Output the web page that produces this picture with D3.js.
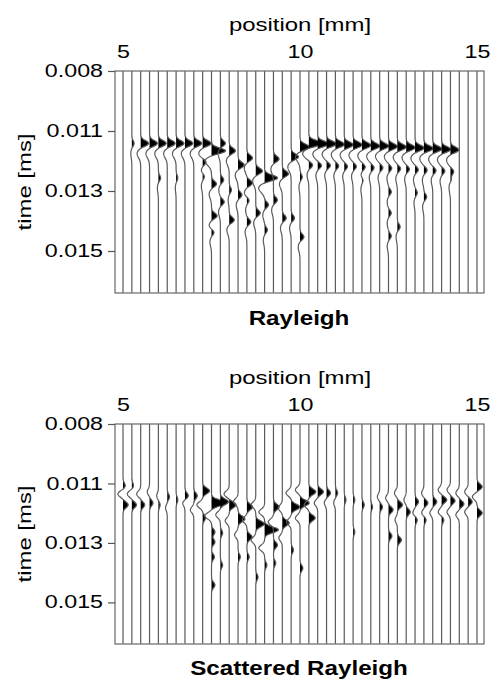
<!DOCTYPE html>
<html>
<head>
<meta charset="utf-8">
<script src="https://cdn.jsdelivr.net/npm/d3@7"></script>
<style>
  body { margin: 0; background: #fff; }
  text { font-family: "Liberation Sans", Arial, Helvetica, sans-serif; fill: #000; }
</style>
</head>
<body>
<svg id="chart" width="491" height="683"></svg>
<script>
// Receiver positions (mm), one wiggle trace each
const tracePositions = [5.0, 5.25, 5.5, 5.75, 6.0, 6.25, 6.5, 6.75, 7.0, 7.25, 7.5, 7.75, 8.0, 8.25,
  8.5, 8.75, 9.0, 9.25, 9.5, 9.75, 10.0, 10.25, 10.5, 10.75, 11.0, 11.25, 11.5, 11.75, 12.0,
  12.25, 12.5, 12.75, 13.0, 13.25, 13.5, 13.75, 14.0, 14.25, 14.5, 14.75, 15.0];
const traceStep = 0.25;

const positionTicks = [5, 10, 15];
const timeTicks = [0.008, 0.0105, 0.013, 0.0155];
const timeTickLabels = ["0.008", "0.011", "0.013", "0.015"];

// Rayleigh panel: main arrival per trace (time in ms, amplitude in trace spacings)
const rayleighFirstTime = [0.01102, 0.01102, 0.01102, 0.01102, 0.01102, 0.01102, 0.01102, 0.01102,
  0.01102, 0.01102, 0.01133, 0.01102, 0.01133, 0.01192, 0.01163, 0.01217, 0.01246, 0.01167,
  0.01229, 0.01158, 0.01117, 0.01102, 0.01104, 0.01104, 0.01106, 0.01108, 0.01108, 0.0111,
  0.01113, 0.01113, 0.01115, 0.01117, 0.01119, 0.01121, 0.01123, 0.01125, 0.01127, 0.01129,
  0.0113, 0.0113, 0.0113];
const rayleighFirstAmp = [0, 0.2, 0.7, 0.7, 0.7, 0.7, 0.7, 0.7, 0.7, 0.75, 1.25, 0.45, 0.55, 0.55,
  0.5, 0.6, 1.15, 0.5, 0.55, 0.65, 0.85, 1.2, 0.95, 0.85, 0.8, 0.8, 0.8, 0.8, 0.8, 0.8, 0.8, 0.8,
  0.8, 0.8, 0.8, 0.8, 0.8, 0.75, 0, 0, 0];

// Rayleigh panel: later arrivals [position mm, time ms, amplitude]
const rayleighLater = [
  [6.0, 0.01246, 0.2], [6.5, 0.01246, 0.15],
  [7.25, 0.01179, 0.35], [7.25, 0.01238, 0.25],
  [7.5, 0.01271, 0.45], [7.5, 0.01404, 0.5], [7.5, 0.01471, 0.3],
  [7.75, 0.01254, 0.3], [7.75, 0.01346, 0.35],
  [8.0, 0.01296, 0.2], [8.0, 0.01421, 0.45],
  [8.25, 0.01317, 0.35],
  [8.5, 0.01267, 0.5], [8.5, 0.01338, 0.25], [8.5, 0.01429, 0.35],
  [8.75, 0.01392, 0.4],
  [9.0, 0.01358, 0.35], [9.0, 0.01463, 0.25],
  [9.25, 0.01338, 0.35],
  [9.5, 0.01413, 0.35],
  [9.75, 0.01413, 0.3],
  [10.0, 0.01242, 0.2], [10.0, 0.01492, 0.35],
  [10.25, 0.01192, 0.35],
  [10.5, 0.01194, 0.35], [10.75, 0.01194, 0.35], [11.0, 0.01196, 0.3], [11.25, 0.01198, 0.3],
  [11.5, 0.01198, 0.3], [11.75, 0.012, 0.3], [12.0, 0.01203, 0.3], [12.25, 0.01203, 0.3],
  [12.5, 0.01205, 0.3], [12.75, 0.01207, 0.3], [13.0, 0.01209, 0.3], [13.25, 0.01211, 0.3],
  [13.5, 0.01213, 0.3], [13.75, 0.01215, 0.3], [14.0, 0.01217, 0.3], [14.25, 0.01219, 0.3],
  [11.75, 0.01254, 0.2], [12.5, 0.01304, 0.25], [12.5, 0.01392, 0.25], [12.5, 0.01488, 0.25],
  [12.75, 0.0145, 0.25], [13.25, 0.01308, 0.2], [13.5, 0.01325, 0.25], [14.25, 0.01254, 0.2]
];

// Scattered Rayleigh panel: arrivals [position mm, time ms, amplitude]
const scatteredEvents = [
  [5.0, 0.0106, 0.2], [5.0, 0.01094, -0.45], [5.0, 0.0114, 0.45],
  [5.25, 0.0106, 0.15], [5.25, 0.01094, -0.4], [5.25, 0.0114, 0.4],
  [5.5, 0.01094, -0.35], [5.5, 0.0114, 0.35],
  [5.75, 0.01085, -0.2], [5.75, 0.01132, 0.3],
  [6.0, 0.01102, -0.15], [6.0, 0.0114, 0.15],
  [6.25, 0.01106, 0.2], [6.25, 0.01153, -0.15],
  [6.5, 0.01119, 0.15],
  [6.75, 0.01102, 0.3], [6.75, 0.01132, -0.2],
  [7.0, 0.01102, 0.3], [7.0, 0.01161, -0.3],
  [7.25, 0.01081, 0.6], [7.25, 0.0114, -0.5], [7.25, 0.01195, 0.25],
  [7.5, 0.01132, 1.3], [7.5, 0.01186, -0.6], [7.5, 0.01254, 0.3], [7.5, 0.01296, 0.3],
  [7.5, 0.01359, 0.25], [7.5, 0.01477, 0.3],
  [7.75, 0.01127, 0.7], [7.75, 0.01182, -0.4], [7.75, 0.01258, 0.2], [7.75, 0.01393, 0.2],
  [8.0, 0.01094, -0.45], [8.0, 0.0114, 0.6], [8.0, 0.01207, -0.35],
  [8.25, 0.01127, -0.4], [8.25, 0.01199, 0.6], [8.25, 0.01266, -0.3], [8.25, 0.01359, 0.2],
  [8.5, 0.01149, 0.5], [8.5, 0.01203, -0.4], [8.5, 0.01275, 0.45], [8.5, 0.01359, 0.2],
  [8.75, 0.0114, -0.4], [8.75, 0.0122, 0.75], [8.75, 0.01288, -0.4], [8.75, 0.01444, 0.2],
  [9.0, 0.0117, -0.5], [9.0, 0.01245, 1.2], [9.0, 0.01321, -0.5], [9.0, 0.01393, 0.2],
  [9.25, 0.01149, 0.5], [9.25, 0.01212, -0.45], [9.25, 0.01309, 0.35], [9.25, 0.01385, 0.2],
  [9.5, 0.01153, -0.35], [9.5, 0.01216, 0.6], [9.5, 0.01279, -0.3],
  [9.75, 0.0109, -0.45], [9.75, 0.01149, 0.75], [9.75, 0.01212, -0.4], [9.75, 0.0133, 0.2],
  [10.0, 0.01077, -0.4], [10.0, 0.01132, 0.8], [10.0, 0.01195, -0.4], [10.0, 0.01406, 0.25],
  [10.25, 0.01085, 0.6], [10.25, 0.0114, -0.4], [10.25, 0.01195, 0.55],
  [10.5, 0.01085, 0.5], [10.5, 0.01132, -0.3],
  [10.75, 0.0109, 0.35], [10.75, 0.01132, -0.2],
  [11.0, 0.0109, 0.2], [11.0, 0.01132, -0.15],
  [11.25, 0.01119, 0.15],
  [11.5, 0.01119, 0.15], [11.5, 0.01254, 0.15],
  [11.75, 0.0114, 0.2],
  [12.0, 0.01149, 0.15],
  [12.25, 0.01106, -0.2], [12.25, 0.01149, 0.25],
  [12.5, 0.01111, -0.25], [12.5, 0.01161, 0.4], [12.5, 0.01271, 0.3],
  [12.75, 0.0109, -0.25], [12.75, 0.0114, 0.45], [12.75, 0.01203, -0.2], [12.75, 0.01288, 0.35],
  [13.0, 0.01119, -0.2], [13.0, 0.0117, 0.35],
  [13.25, 0.01127, 0.3], [13.25, 0.01174, -0.2], [13.25, 0.01203, 0.2],
  [13.5, 0.0109, -0.2], [13.5, 0.01132, 0.35], [13.5, 0.01174, -0.2], [13.5, 0.01203, 0.2],
  [13.75, 0.01127, 0.35], [13.75, 0.01174, -0.25],
  [14.0, 0.01077, -0.3], [14.0, 0.01119, 0.45], [14.0, 0.0117, -0.3], [14.0, 0.01203, 0.2],
  [14.25, 0.01077, -0.3], [14.25, 0.01123, 0.4], [14.25, 0.0117, -0.3],
  [14.5, 0.0109, -0.3], [14.5, 0.01136, 0.4], [14.5, 0.01182, -0.3],
  [14.75, 0.01085, -0.3], [14.75, 0.01127, 0.35], [14.75, 0.0117, -0.3],
  [15.0, 0.01064, 0.45], [15.0, 0.01106, -0.4], [15.0, 0.01174, 0.45]
];

const rayleighEvents = tracePositions
  .map((p, i) => [p, rayleighFirstTime[i], rayleighFirstAmp[i]])
  .filter(e => e[2] !== 0)
  .concat(rayleighLater);

// ---- layout ----
const svg = d3.select("#chart");
const frameLeft = 115, frameRight = 484;
const timeDomain = [0.008, 0.01725];
const x = d3.scaleLinear().domain([5, 15]).range([123, 477]);
const gain = 1.3;

const panels = [
  { title: "Rayleigh", top: 71, bottom: 293, titleY: 325, events: rayleighEvents, tail: 0.45 },
  { title: "Scattered Rayleigh", top: 424, bottom: 644, titleY: 675, events: scatteredEvents, tail: 0 }
];

// wavelet: gaussian lobe, optionally followed by a broad opposite-sign tail
const sigma = 0.00017;
function wavelet(tau, tail) {
  const u = tau / sigma;
  const main = Math.exp(-u * u);
  if (!tail) return main;
  const t2 = (tau - 0.00042) / 0.00025;
  return main - tail * Math.exp(-t2 * t2);
}

const sampleTimes = d3.range(timeDomain[0], timeDomain[1] + 1e-9, 0.00002);
const textScaleX = 1.33;

panels.forEach((panel, pi) => {
  const y = d3.scaleLinear().domain(timeDomain).range([panel.top, panel.bottom]);
  const g = svg.append("g");

  const clipId = "clip" + pi;
  svg.append("clipPath").attr("id", clipId)
    .append("rect")
    .attr("x", frameLeft).attr("y", panel.top)
    .attr("width", frameRight - frameLeft).attr("height", panel.bottom - panel.top);

  const traces = g.append("g").attr("clip-path", `url(#${clipId})`);

  tracePositions.forEach(pos => {
    const evs = panel.events.filter(e => e[0] === pos);
    const samples = sampleTimes.map(t => ({
      t,
      v: gain * d3.sum(evs, e => e[2] * wavelet(t - e[1], panel.tail))
    }));
    const area = d3.area()
      .y(d => y(d.t))
      .x0(x(pos))
      .x1(d => x(pos + Math.max(0, d.v) * traceStep));
    const line = d3.line()
      .y(d => y(d.t))
      .x(d => x(pos + d.v * traceStep));
    traces.append("path").attr("d", area(samples)).attr("fill", "#000");
    traces.append("path").attr("d", line(samples))
      .attr("fill", "none").attr("stroke", "#5a5a5a").attr("stroke-width", 1.2);
  });

  // frame
  g.append("rect")
    .attr("x", frameLeft).attr("y", panel.top)
    .attr("width", frameRight - frameLeft).attr("height", panel.bottom - panel.top)
    .attr("fill", "none").attr("stroke", "#666").attr("stroke-width", 1.2);

  // position axis on top
  const topAxis = g.append("g")
    .attr("transform", `translate(0,${panel.top})`)
    .call(d3.axisTop(x).tickValues(positionTicks).tickSize(0).tickPadding(13).tickFormat(d3.format("d")));
  topAxis.select(".domain").remove();
  topAxis.selectAll("text")
    .attr("font-size", 17.5)
    .attr("font-family", null)
    .attr("transform", `scale(${textScaleX},1)`);

  // time axis on the left
  const leftAxis = g.append("g")
    .attr("transform", `translate(${frameLeft},0)`)
    .call(d3.axisLeft(y).tickValues(timeTicks).tickSize(7).tickFormat((d, i) => timeTickLabels[i]));
  leftAxis.select(".domain").remove();
  leftAxis.selectAll("line").attr("stroke", "#555").attr("stroke-width", 1.2);
  leftAxis.selectAll("text")
    .attr("font-size", 17.5)
    .attr("font-family", null)
    .attr("x", -9)
    .attr("transform", `scale(${textScaleX},1)`);

  // axis titles
  g.append("text")
    .attr("transform", `translate(300,${panel.top - 40}) scale(${textScaleX},1)`)
    .attr("text-anchor", "middle").attr("font-size", 18)
    .text("position [mm]");
  g.append("text")
    .attr("transform", `translate(31,${(panel.top + panel.bottom) / 2}) rotate(-90) scale(${textScaleX},1)`)
    .attr("text-anchor", "middle").attr("font-size", 18)
    .text("time [ms]");

  // panel caption
  g.append("text")
    .attr("transform", `translate(299,${panel.titleY}) scale(1.18,1)`)
    .attr("text-anchor", "middle").attr("font-size", 20.5).attr("font-weight", "bold")
    .text(panel.title);
});
</script>
</body>
</html>
